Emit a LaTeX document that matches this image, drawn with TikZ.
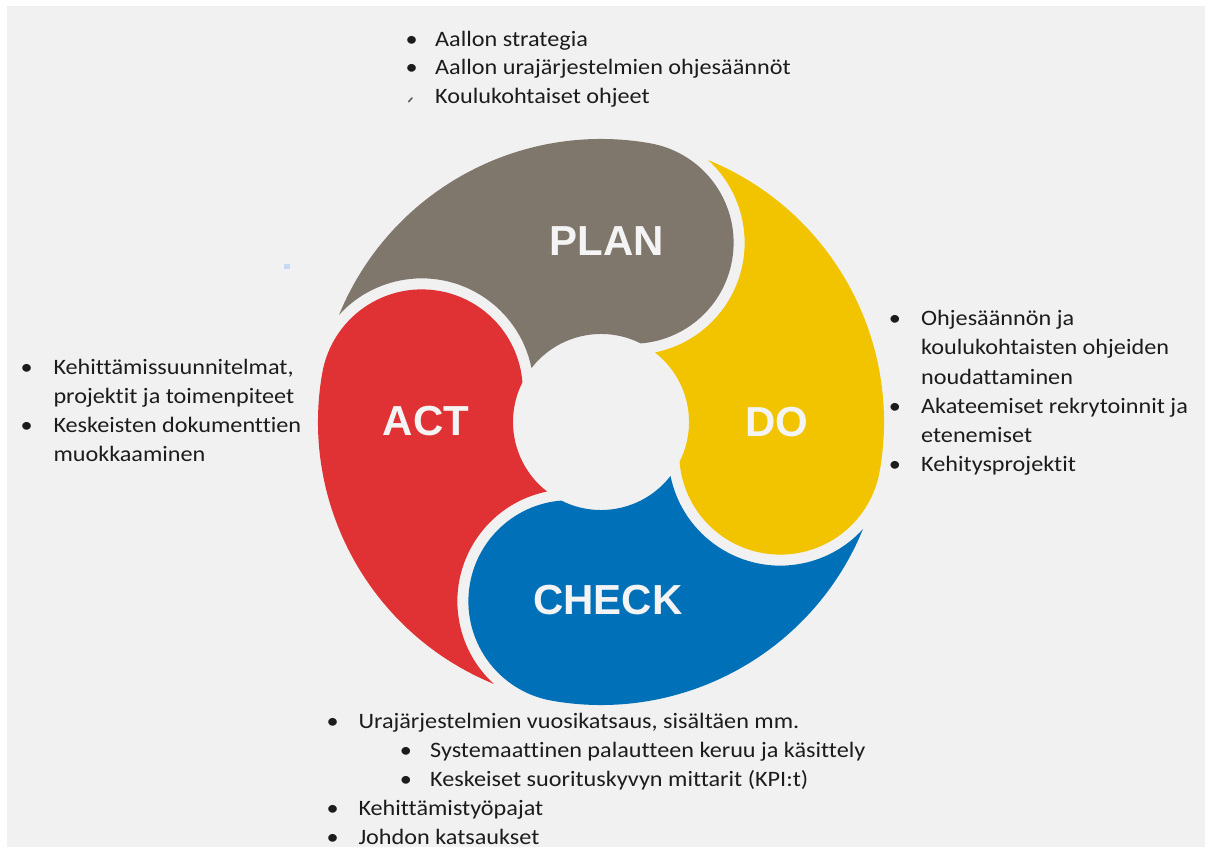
\documentclass[tikz,border=0pt]{standalone}
\usepackage{fontspec}
\setmainfont{Carlito}[FakeStretch=1.1, Ligatures=NoCommon]
\newfontfamily\labelfont{Liberation Sans}
\definecolor{bggray}{RGB}{241,241,241}
\definecolor{plangray}{RGB}{127,119,108}
\definecolor{doyellow}{RGB}{242,196,0}
\definecolor{checkblue}{RGB}{0,112,184}
\definecolor{actred}{RGB}{224,50,52}
\definecolor{textcol}{RGB}{28,28,28}
\definecolor{labelcol}{RGB}{244,244,244}
\definecolor{markblue}{RGB}{200,216,245}
\tikzset{
  txt/.style={anchor=base west, inner sep=0pt, text=textcol, font=\fontsize{22}{29}\selectfont},
  blt/.style={anchor=base, inner sep=0pt, text=textcol, font=\fontsize{22}{29}\selectfont},
  big/.style={inner sep=0pt, text=labelcol, font=\labelfont\bfseries\fontsize{42}{42}\selectfont},
}
\begin{document}
\begin{tikzpicture}[x=1pt,y=1pt]
    \useasboundingbox (0,0) rectangle (1205,847);
    \fill[white] (0,0) rectangle (1205,847);
    \fill[bggray] (7,0) rectangle (1205,841);
    \coordinate (O) at (601,425);

    % the four swirl pieces
    \fill[plangray] ([shift={(157.8:283)}]O) arc[start angle=157.8, end angle=80, radius=283]
        arc[start angle=80, end angle=-85.4, radius=101]
        arc[start angle=63.2, end angle=142.2, radius=88]
        arc[start angle=11.5, end angle=137.7, radius=112] -- cycle;
    \fill[doyellow] ([shift={(67.8:283)}]O) arc[start angle=67.8, end angle=-10, radius=283]
        arc[start angle=-10, end angle=-175.4, radius=101]
        arc[start angle=-26.8, end angle=52.2, radius=88]
        arc[start angle=-78.5, end angle=47.7, radius=112] -- cycle;
    \fill[checkblue] ([shift={(-22.2:283)}]O) arc[start angle=-22.2, end angle=-100, radius=283]
        arc[start angle=-100, end angle=-265.4, radius=101]
        arc[start angle=-116.8, end angle=-37.8, radius=88]
        arc[start angle=-168.5, end angle=-42.3, radius=112] -- cycle;
    \fill[actred] ([shift={(247.8:283)}]O) arc[start angle=247.8, end angle=170, radius=283]
        arc[start angle=170, end angle=4.6, radius=101]
        arc[start angle=153.2, end angle=232.2, radius=88]
        arc[start angle=101.5, end angle=227.7, radius=112] -- cycle;

    \node [big] (plan) at (607,606) {PLAN};
    \node [big] (do) at (777,425) {DO};
    \node [big] (check) at (608,247) {CHECK};
    \node [big] (act) at (426,426) {ACT};

    % plan list
    \node [blt] (pb1) at (411.7,800.3) {\textbullet};
    \node [txt] (p1) at (435,800.3) {Aallon strategia};
    \node [blt] (pb2) at (411.7,772) {\textbullet};
    \node [txt] (p2) at (435,772) {Aallon urajärjestelmien ohjesäännöt};
    \draw [textcol!70, line width=1.6pt, line cap=round] (408.7,745.3) -- (412,749);
    \node [txt] (p3) at (435,743.7) {Koulukohtaiset ohjeet};

    % do list
    \node [blt] (db1) at (895,521) {\textbullet};
    \node [txt] (d1) at (921,521) {Ohjesäännön ja};
    \node [txt] (d2) at (921,492) {koulukohtaisten ohjeiden};
    \node [txt] (d3) at (921,462.7) {noudattaminen};
    \node [blt] (db2) at (895,433.7) {\textbullet};
    \node [txt] (d4) at (921,433.7) {Akateemiset rekrytoinnit ja};
    \node [txt] (d5) at (921,404.3) {etenemiset};
    \node [blt] (db3) at (895,375.3) {\textbullet};
    \node [txt] (d6) at (921,375.3) {Kehitysprojektit};

    % act list
    \node [blt] (ab1) at (26.7,472) {\textbullet};
    \node [txt] (a1) at (53.3,472) {Kehittämissuunnitelmat,};
    \node [txt] (a2) at (53.3,443) {projektit ja toimenpiteet};
    \node [blt] (ab2) at (26.7,414.3) {\textbullet};
    \node [txt] (a3) at (53.3,414.3) {Keskeisten dokumenttien};
    \node [txt] (a4) at (53.3,385.3) {muokkaaminen};

    % check list
    \node [blt] (cb1) at (332.7,118.7) {\textbullet};
    \node [txt] (c1) at (358.3,118.7) {Urajärjestelmien vuosikatsaus, sisältäen mm.};
    \node [blt] (cb2) at (406,89.7) {\textbullet};
    \node [txt] (c2) at (430,89.7) {Systemaattinen palautteen keruu ja käsittely};
    \node [blt] (cb3) at (406,61) {\textbullet};
    \node [txt] (c3) at (430,61) {Keskeiset suorituskyvyn mittarit (KPI:t)};
    \node [blt] (cb4) at (332.7,32) {\textbullet};
    \node [txt] (c4) at (358.3,32) {Kehittämistyöpajat};
    \node [blt] (cb5) at (332.7,3) {\textbullet};
    \node [txt] (c5) at (358.3,3) {Johdon katsaukset};

    % stray mark
    \fill [markblue] (284,577.7) rectangle (290,583);
\end{tikzpicture}
\end{document}
